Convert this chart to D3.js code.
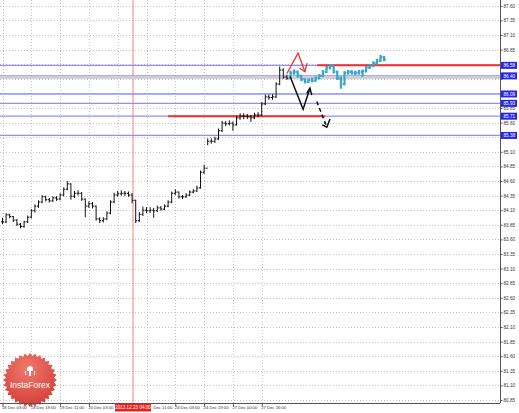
<!DOCTYPE html>
<html>
<head>
<meta charset="utf-8">
<script src="https://cdn.jsdelivr.net/npm/d3@7"></script>
<style>
  html, body { margin: 0; padding: 0; background: #fff; }
  svg { display: block; font-family: "Liberation Sans", "DejaVu Sans", sans-serif; }
</style>
</head>
<body>
<div class="chartContainer"></div>
<script>
// bars every 2 hours, index 0 = 18 Dec 03:00
const closes = [83.90,84.02,83.99,83.93,83.86,83.82,83.90,83.98,84.09,84.17,
  84.24,84.33,84.28,84.26,84.31,84.29,84.36,84.46,84.55,84.34,
  84.39,84.39,84.29,84.17,84.21,84.17,83.95,83.92,83.95,84.05,
  84.24,84.36,84.38,84.39,84.39,84.36,84.27,83.92,84.03,84.10,
  84.09,84.10,84.09,84.14,84.12,84.17,84.24,84.39,84.41,84.33,
  84.33,84.36,84.41,84.43,84.48,84.75,84.82,85.28,85.28,85.32,
  85.46,85.59,85.58,85.59,85.56,85.68,85.71,85.71,85.70,85.68,
  85.73,85.73,85.92,86.04,86.03,86.04,86.26,86.50,86.38,86.36,
  86.45,86.47,86.40,86.34,86.30,86.33,86.32,86.36,86.40,86.47,
  86.54,86.57,86.47,86.36,86.26,86.45,86.47,86.45,86.45,86.47,
  86.48,86.54,86.57,86.62,86.66,86.72,86.68]
const highs = [83.97,84.05,84.04,84.00,83.95,83.88,83.92,84.01,84.12,84.20,
  84.27,84.36,84.35,84.31,84.34,84.34,84.39,84.49,84.60,84.56,
  84.43,84.44,84.41,84.30,84.25,84.24,84.18,83.98,83.98,84.08,
  84.27,84.40,84.43,84.44,84.43,84.42,84.39,84.28,84.07,84.16,
  84.15,84.15,84.14,84.18,84.17,84.20,84.27,84.42,84.46,84.42,
  84.36,84.39,84.44,84.46,84.52,84.78,84.88,85.33,85.33,85.36,
  85.50,85.63,85.63,85.64,85.62,85.72,85.76,85.76,85.75,85.73,
  85.77,85.78,85.95,86.08,86.08,86.09,86.29,86.56,86.53,86.42,
  86.49,86.51,86.49,86.42,86.36,86.36,86.37,86.39,86.43,86.50,
  86.57,86.60,86.58,86.49,86.39,86.48,86.50,86.50,86.49,86.50,
  86.51,86.57,86.60,86.65,86.69,86.76,86.74]
const lows = [83.86,83.88,83.96,83.90,83.83,83.79,83.80,83.88,83.96,84.06,
  84.14,84.22,84.25,84.23,84.24,84.26,84.27,84.34,84.44,84.28,
  84.31,84.35,84.26,83.98,84.14,84.13,83.92,83.88,83.89,83.93,
  84.03,84.22,84.33,84.35,84.34,84.33,84.22,83.88,83.90,84.00,
  84.05,84.05,83.97,84.07,84.09,84.10,84.15,84.22,84.36,84.30,
  84.29,84.31,84.34,84.39,84.41,84.47,84.72,85.21,85.24,85.25,
  85.30,85.44,85.54,85.55,85.46,85.55,85.65,85.66,85.66,85.61,
  85.66,85.69,85.71,85.90,85.99,85.99,86.02,86.24,86.35,86.33,
  86.34,86.42,86.37,86.31,86.27,86.28,86.29,86.30,86.34,86.38,
  86.45,86.51,86.44,86.33,86.18,86.24,86.42,86.42,86.41,86.42,
  86.38,86.46,86.52,86.55,86.60,86.64,86.65]
const forecastFrom = 80

const yTicks = ["87.60","87.35","87.10","86.85","86.60","86.35","86.10","85.85","85.60","85.35",
  "85.10","84.85","84.60","84.35","84.10","83.85","83.60","83.35","83.10","82.85",
  "82.60","82.35","82.10","81.85","81.60","81.35","81.10","80.85"]
const xTickIdx = [0,8,16,24,32,40,48,56,64,72]
// the 20 Dec 19:00 label sits under the marker box and is not shown
const xLabels = ["18 Dec 03:00","18 Dec 19:00","19 Dec 11:00","20 Dec 03:00","",
  "Dec 11:00","24 Dec 03:00","24 Dec 19:00","27 Dec 00:00","27 Dec 16:00"]

const levels = [86.58,86.40,86.09,85.93,85.71,85.38]
const levelLabels = ["86.58","86.40","86.09","85.93","85.71","85.38"]
const bidLevel = 86.37
const redLevels = [[86.58, 87.4, 140], [85.71, 46, 89.6]]  // price, from idx, to idx
const markerIdx = 36.25
const markerLabel = "2013.12.23 04:00"

// hand drawn arrows, [idx, price]
const redArrow = [[79,86.44],[82.1,86.79],[84,86.47]]
const redHead = [[82.5,86.53],[84,86.47],[84.6,86.62]]
const blackArrow = [[79.9,86.39],[83.5,85.83],[85.4,86.19]]
const blackHead = [[84.5,86.10],[85.4,86.19],[85.9,86.07]]
const dashArrow = [[87.3,85.96],[90.1,85.52]]
const dashHead = [[88.8,85.56],[90.1,85.52],[90.97,85.66]]

const W = 519, H = 413, plotR = 500, plotB = 403

let svg = d3.select(".chartContainer").append("svg")
  .attr("width", W).attr("height", H)

svg.append("rect").attr("width", W).attr("height", H).attr("fill", "#fff")

const x = d3.scaleLinear().domain([0, 80]).range([2.5, 290.5])
const y = d3.scaleLinear().domain([80.85, 87.60]).range([400, 5.8])

// grid
svg.append("g").selectAll("line").data(yTicks).enter().append("line")
  .attr("x1", 0).attr("x2", plotR)
  .attr("y1", d => Math.round(y(+d)) + 0.5).attr("y2", d => Math.round(y(+d)) + 0.5)
  .attr("stroke", "#c4c4c4").attr("stroke-dasharray", "1,2")
svg.append("g").selectAll("line").data(xTickIdx).enter().append("line")
  .attr("x1", d => Math.round(x(d)) + 0.5).attr("x2", d => Math.round(x(d)) + 0.5)
  .attr("y1", 0).attr("y2", plotB)
  .attr("stroke", "#c4c4c4").attr("stroke-dasharray", "1,2")

// logo
const logo = svg.append("g").attr("transform", "translate(30,380)")
const grad = svg.append("defs").append("radialGradient").attr("id", "lg")
  .attr("cx", "45%").attr("cy", "30%").attr("r", "75%")
grad.append("stop").attr("offset", "0%").attr("stop-color", "#f07a6e")
grad.append("stop").attr("offset", "100%").attr("stop-color", "#d23a35")
const star = d3.range(64).map(k => {
  const a = k / 64 * Math.PI * 2, r = k % 2 ? 24 : 27
  return [Math.cos(a) * r, Math.sin(a) * r]
})
logo.append("path").attr("d", d3.line()(star) + "Z").attr("fill", "url(#lg)")
logo.append("path").attr("d", "M-3,-12 q3,-4 6,0 v3 h-2 v5 h-2 v-5 h-2z M-5,-9 h1 v4 h-1z M4,-9 h1 v4 h-1z")
  .attr("fill", "#fff")
logo.append("text").attr("y", 8).attr("text-anchor", "middle")
  .attr("font-size", 8.5).attr("fill", "#fff").text("InstaForex")

// vertical marker
svg.append("line").attr("x1", x(markerIdx)).attr("x2", x(markerIdx))
  .attr("y1", 0).attr("y2", plotB).attr("stroke", "#f08080").attr("stroke-width", 1)

// levels
svg.append("g").selectAll("line").data(levels).enter().append("line")
  .attr("x1", 0).attr("x2", plotR)
  .attr("y1", d => y(d)).attr("y2", d => y(d))
  .attr("stroke", "#8f8ff5").attr("stroke-width", 1.3)
svg.append("line").attr("x1", 0).attr("x2", plotR)
  .attr("y1", y(bidLevel)).attr("y2", y(bidLevel))
  .attr("stroke", "#d0d0d0").attr("stroke-width", 2.5)
svg.append("g").selectAll("line").data(redLevels).enter().append("line")
  .attr("x1", d => x(d[1])).attr("x2", d => Math.min(plotR, x(d[2])))
  .attr("y1", d => y(d[0])).attr("y2", d => y(d[0]))
  .attr("stroke", "#ee3030").attr("stroke-width", 2)

// bars
const bars = svg.append("g").selectAll("g").data(closes).enter().append("g")
  .attr("stroke", (d, i) => i >= forecastFrom ? "#3aa6c8" : "#111")
  .attr("stroke-width", (d, i) => i >= forecastFrom ? 2.2 : 1)
bars.append("line")
  .attr("x1", (d, i) => x(i)).attr("x2", (d, i) => x(i))
  .attr("y1", (d, i) => y(highs[i])).attr("y2", (d, i) => y(lows[i]))
bars.append("line")
  .attr("x1", (d, i) => x(i) - 1.5).attr("x2", (d, i) => x(i))
  .attr("y1", (d, i) => y(i ? closes[i - 1] : d)).attr("y2", (d, i) => y(i ? closes[i - 1] : d))
bars.append("line")
  .attr("x1", (d, i) => x(i)).attr("x2", (d, i) => x(i) + 1.5)
  .attr("y1", d => y(d)).attr("y2", d => y(d))

// arrows
const ln = d3.line().x(d => x(d[0])).y(d => y(d[1]))
svg.append("path").attr("d", ln(redArrow)).attr("fill", "none").attr("stroke", "#f03030").attr("stroke-width", 1.3)
svg.append("path").attr("d", ln(redHead)).attr("fill", "none").attr("stroke", "#f03030").attr("stroke-width", 1.3)
svg.append("path").attr("d", ln(blackArrow)).attr("fill", "none").attr("stroke", "#111").attr("stroke-width", 1.5)
svg.append("path").attr("d", ln(blackHead)).attr("fill", "none").attr("stroke", "#111").attr("stroke-width", 1.5)
svg.append("path").attr("d", ln(dashArrow)).attr("fill", "none").attr("stroke", "#111").attr("stroke-width", 1.5)
  .attr("stroke-dasharray", "4,3")
svg.append("path").attr("d", ln(dashHead)).attr("fill", "none").attr("stroke", "#111").attr("stroke-width", 1.5)

// axes
const yAxis = d3.axisRight(y).tickValues(yTicks.map(Number)).tickSize(2).tickFormat(d3.format(".2f"))
const gy = svg.append("g").attr("transform", `translate(${plotR + 0.5},0)`).call(yAxis)
gy.select(".domain").attr("stroke", "#555").attr("d", `M0,0V${plotB}`)
gy.selectAll(".tick line").attr("stroke", "#555")
gy.selectAll("text").attr("font-size", 4.6).attr("fill", "#333").attr("x", 3)
  // labels sitting under a price box are covered by it
  .style("display", d => levels.some(l => Math.abs(y(l) - y(d)) < 4.2) ? "none" : null)

const xAxis = d3.axisBottom(x).tickValues(xTickIdx).tickSize(3).tickFormat((d, i) => xLabels[i])
const gx = svg.append("g").attr("transform", `translate(0,${plotB + 0.5})`).call(xAxis)
gx.select(".domain").attr("stroke", "#555").attr("d", `M0,0H${plotR}`)
gx.selectAll(".tick line").attr("stroke", "#555")
gx.selectAll("text").attr("font-size", 4.2).attr("fill", "#333")
  .attr("text-anchor", "start").attr("dx", (d, i) => i === 5 ? 6.5 : -1).attr("y", 3)

// price boxes on the axis
const boxes = svg.append("g").selectAll("g").data(levels).enter().append("g")
  .attr("transform", d => `translate(${plotR + 1},${y(d)})`)
boxes.append("rect").attr("x", 0).attr("y", -3.5).attr("width", 16).attr("height", 7).attr("fill", "#2626e8")
boxes.append("text").attr("x", 2.5).attr("y", 1.8).attr("font-size", 4.6).attr("fill", "#fff")
  .text((d, i) => levelLabels[i])

// marker label
const mb = svg.append("g").attr("transform", `translate(${x(markerIdx)},${plotB + 4.5})`)
mb.append("rect").attr("x", -18).attr("y", -4).attr("width", 36).attr("height", 8).attr("fill", "#e82020")
mb.append("text").attr("text-anchor", "middle").attr("y", 1.8).attr("font-size", 4.6).attr("fill", "#fff").text(markerLabel)
</script>
</body>
</html>
